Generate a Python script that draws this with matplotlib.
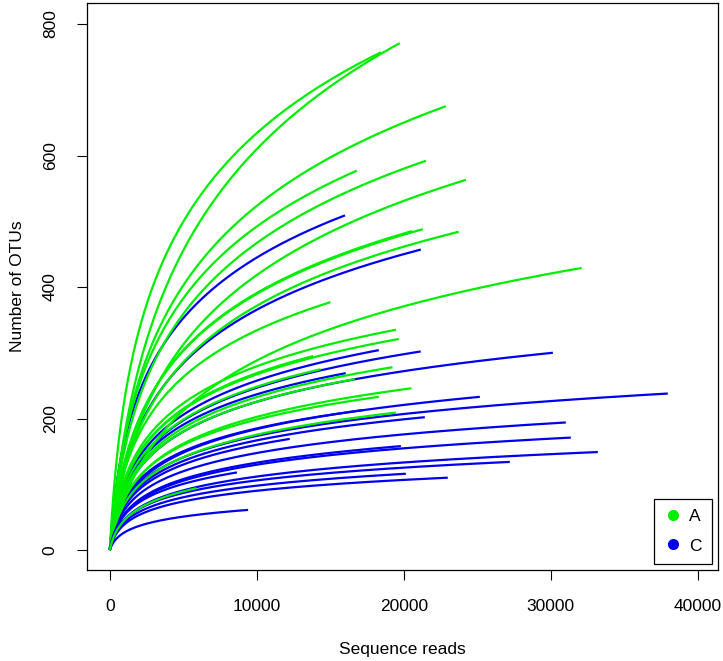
import numpy as np
import matplotlib
matplotlib.use("Agg")
import matplotlib.pyplot as plt
from matplotlib.lines import Line2D

plt.rcParams['font.family'] = ['Liberation Sans', 'DejaVu Sans']

# end point of each rarefaction curve (reads, OTUs) and how bent it is
green_reads = [19730, 18440, 22860, 16800, 21500, 24220, 21300, 20550, 23730, 32100,
               15010, 19460, 19660, 13830, 14350, 19230, 16670, 20520, 18300, 19460, 5900]
green_otus = [771, 757, 675, 577, 592, 563, 488, 485, 484, 429,
              377, 335, 321, 295, 275, 278, 260, 246, 233, 209, 94]
green_bend = [1000, 500, 700, 600, 700, 1000, 600, 600, 700, 1200,
              500, 400, 400, 400, 400, 400, 400, 400, 350, 350, 300]

blue_reads = [16000, 21160, 18300, 21150, 30140, 37960, 25170, 16050, 17300, 21430,
              31020, 31360, 33200, 27210, 22990, 20140, 19800, 12240, 9410, 8650]
blue_otus = [509, 457, 304, 302, 300, 238, 233, 269, 213, 202,
             194, 171, 149, 134, 110, 116, 158, 169, 61, 118]
blue_bend = [450, 600, 400, 400, 400, 300, 350, 350, 300, 300,
             300, 300, 300, 250, 250, 250, 300, 300, 250, 250]

green_col = '#00EE00'
blue_col = '#0000EE'


def rarecurve(n_end, s_end, b):
    n = np.linspace(0, n_end, 300)
    s = s_end * np.log1p(n / b) / np.log1p(n_end / b)
    return n, s


fig = plt.figure(figsize=(7.23, 6.61), dpi=100)
ax = fig.add_axes([87 / 723, 1 - 570 / 661, 631 / 723, 567 / 661])

curves = []
for i in range(max(len(green_reads), len(blue_reads))):
    if i < len(green_reads):
        curves.append((green_reads[i], green_otus[i], green_bend[i], green_col))
    if i < len(blue_reads):
        curves.append((blue_reads[i], blue_otus[i], blue_bend[i], blue_col))

for n_end, s_end, b, col in curves:
    x, y = rarecurve(n_end, s_end, b)
    ax.plot(x, y, color=col, lw=1.6, solid_capstyle='butt')

ax.set_xlim(-1550, 41372)
ax.set_ylim(-30.4, 832)
ax.set_xticks([0, 10000, 20000, 30000, 40000])
ax.set_yticks([0, 200, 400, 600, 800])
ax.tick_params(direction='out', length=7, width=0.8, labelsize=12.5)
ax.tick_params(axis='x', pad=14)
ax.tick_params(axis='y', pad=14)
for lab in ax.get_yticklabels():
    lab.set_rotation(90)
    lab.set_va('center')
for sp in ax.spines.values():
    sp.set_linewidth(0.9)

ax.set_xlabel('Sequence reads', fontsize=12.5, labelpad=20)
ax.set_ylabel('Number of OTUs', fontsize=12.5, labelpad=13)

handles = [Line2D([], [], ls='', marker='o', ms=7, color=green_col),
           Line2D([], [], ls='', marker='o', ms=7, color=blue_col)]
leg = ax.legend(handles, ['A', 'C'], loc='lower right', fontsize=12.5,
                fancybox=False, edgecolor='black', framealpha=1,
                handletextpad=0.4, borderaxespad=0.35, handlelength=1.0,
                labelspacing=0.8, borderpad=0.6)
leg.get_frame().set_linewidth(0.9)

fig.savefig('out.png', dpi=100)
